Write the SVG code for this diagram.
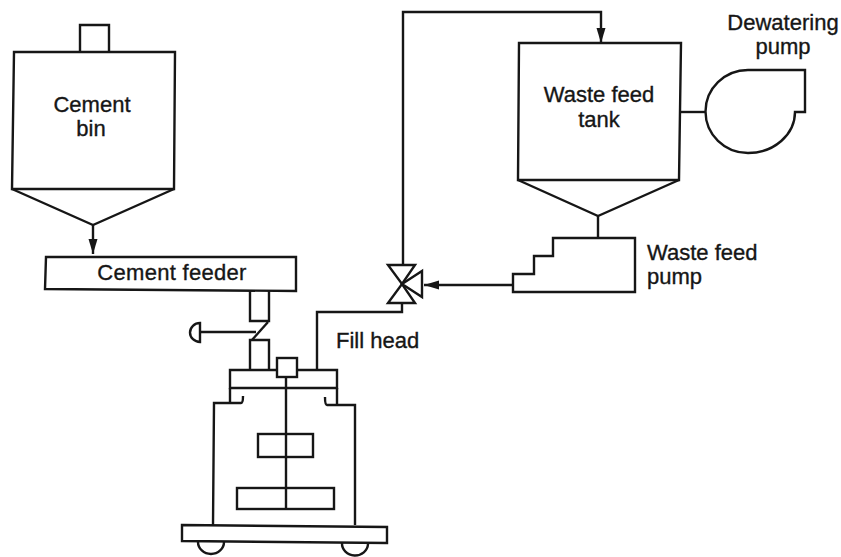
<svg xmlns="http://www.w3.org/2000/svg" width="841" height="557" viewBox="0 0 841 557">
<style>
.s{fill:none;stroke:#161616;stroke-width:2.4;stroke-linejoin:miter}
.t{font-family:"Liberation Sans",Arial,sans-serif;font-size:22px;fill:#161616;stroke:#161616;stroke-width:.35}
.m{text-anchor:middle}
</style>
<defs>
<marker id="a" markerUnits="userSpaceOnUse" markerWidth="16" markerHeight="10" refX="15" refY="4.500" orient="auto"><path d="M0 0L15 4.500L0 9Z" fill="#161616"/></marker>
</defs>
<rect width="841" height="557" fill="#fff"/>
<g id="connectors">
<path class="s" d="M93 225V254" marker-end="url(#a)"/>
<path class="s" d="M403 265V12H601V43" marker-end="url(#a)"/>
<path class="s" d="M513 285H424" marker-end="url(#a)"/>
<path class="s" d="M598 216V238"/>
<path class="s" d="M681 112H706"/>
<path class="s" d="M317 370V312H402V303"/>
</g>
<g id="cement-bin">
<path class="s" d="M80 52V25H109V52"/>
<path class="s" d="M14 52H175L174 189H12Z"/>
<path class="s" d="M12 189L93 225L174 189"/>
<text class="t m" x="92" y="112">Cement</text>
<text class="t m" x="91" y="136">bin</text>
</g>
<g id="cement-feeder">
<path class="s" d="M46 257H296V291L45 289Z"/>
<text class="t m" x="172" y="280" letter-spacing=".3">Cement feeder</text>
</g>
<g id="feed-valve">
<path class="s" d="M250 291V321H269V291"/>
<path class="s" d="M268 322L252 340"/>
<path class="s" d="M200 332H256"/>
<path class="s" d="M200 323A10 9.500 0 0 0 200 342Z"/>
<path class="s" d="M250 370V340H269V370"/>
</g>
<g id="fill-head">
<path class="s" d="M277 370H230V388H337V370H297"/>
<path class="s" d="M230 388V403M337 388V404"/>
<rect class="s" x="277" y="358" width="20" height="19"/>
<text class="t" x="336" y="348">Fill head</text>
</g>
<g id="mixer-vessel">
<path class="s" d="M213 525L214 403H241Q243 403 243 396"/>
<path class="s" d="M355 525V405H327Q325 405 325 397"/>
<path class="s" d="M286 377V510"/>
<rect class="s" x="258" y="434" width="55" height="23"/>
<rect class="s" x="237" y="488" width="97" height="21"/>
<path class="s" d="M182 525L387 527V543L182 541Z"/>
<path class="s" d="M198 542A13 12 0 0 0 224 542"/>
<path class="s" d="M342 543A13 12 0 0 0 368 544"/>
</g>
<g id="three-way-valve">
<path class="s" d="M388 265H415L402 284Z"/>
<path class="s" d="M388 303H415L402 284Z"/>
<path class="s" d="M402 284L422 271V297Z"/>
</g>
<g id="waste-feed-tank">
<path class="s" d="M519 43H681L679 180H518Z"/>
<path class="s" d="M518 180L598 216L679 180"/>
<text class="t m" x="599" y="102">Waste feed</text>
<text class="t m" x="599" y="127">tank</text>
</g>
<g id="dewatering-pump">
<path class="s" d="M748 70H805V112H795A47 41 0 0 1 748 153A42 41 0 0 1 748 70Z"/>
<text class="t m" x="783" y="30">Dewatering</text>
<text class="t m" x="783" y="54">pump</text>
</g>
<g id="waste-feed-pump">
<path class="s" d="M553 238H635V292H513V274H534V256H553Z"/>
<text class="t" x="647" y="260">Waste feed</text>
<text class="t" x="647" y="284">pump</text>
</g>
</svg>
